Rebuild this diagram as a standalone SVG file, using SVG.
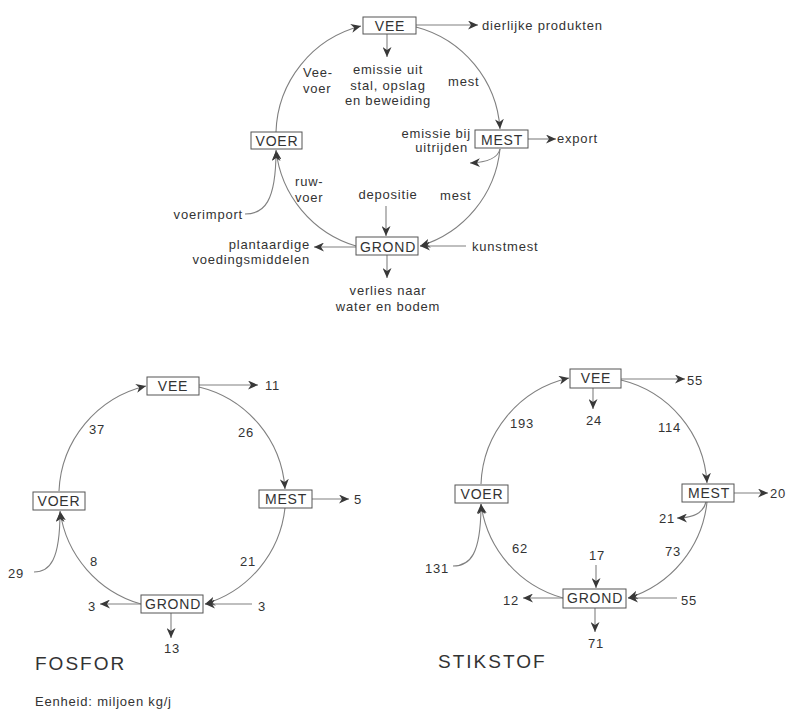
<svg xmlns="http://www.w3.org/2000/svg" width="788" height="709" viewBox="0 0 788 709">
<style>
  .bg { fill: #ffffff; }
  .box { fill: #ffffff; stroke: #555555; stroke-width: 1; }
  .bt { font-family: "Liberation Sans", Arial, sans-serif; font-size: 14px; letter-spacing: 0.8px; fill: #333333; text-anchor: middle; }
  .lb { font-family: "Liberation Sans", Arial, sans-serif; font-size: 13px; letter-spacing: 0.8px; fill: #333333; }
  .mid { text-anchor: middle; }
  .end { text-anchor: end; }
  .title { font-family: "Liberation Sans", Arial, sans-serif; font-size: 19px; letter-spacing: 2px; fill: #333333; }
  .con { fill: none; stroke: #808080; stroke-width: 1.1; marker-end: url(#ah); }
</style>
<defs>
  <marker id="ah" markerUnits="userSpaceOnUse" markerWidth="11" markerHeight="9" refX="10" refY="4.5" orient="auto">
    <path d="M0,0 L10,4.5 L0,9 L3,4.5 z" fill="#383838"/>
  </marker>
</defs>
<rect class="bg" x="0" y="0" width="788" height="709"/>

<g id="connectors">
  <!-- top overview diagram -->
  <path class="con" d="M276 132 A113 113 0 0 1 361 26"/>
  <path class="con" d="M416 27 A113 113 0 0 1 500 129"/>
  <path class="con" d="M500 149 A113 113 0 0 1 420 246"/>
  <path class="con" d="M356 246 A113 113 0 0 1 276 150"/>
  <path class="con" d="M245 214 C264 214 276 202 276 151"/>
  <path class="con" d="M416 25 L478 25"/>
  <path class="con" d="M387 34 L387 57"/>
  <path class="con" d="M528 139 L556 139"/>
  <path class="con" d="M500 149 Q497 162 470 163"/>
  <path class="con" d="M386 206 L386 236"/>
  <path class="con" d="M466 246 L420 246"/>
  <path class="con" d="M356 247 L314 247"/>
  <path class="con" d="M387 255 L387 278"/>

  <!-- FOSFOR -->
  <path class="con" d="M59 491 A113 113 0 0 1 146 386"/>
  <path class="con" d="M199 387 A113 113 0 0 1 285 489"/>
  <path class="con" d="M285 508 A113 113 0 0 1 205 604"/>
  <path class="con" d="M141 604 A113 113 0 0 1 60 511"/>
  <path class="con" d="M34 572 C50 572 60 560 60 512"/>
  <path class="con" d="M199 385 L258 385"/>
  <path class="con" d="M312 499 L349 499"/>
  <path class="con" d="M141 604 L100 604"/>
  <path class="con" d="M252 604 L205 604"/>
  <path class="con" d="M171 613 L171 638"/>

  <!-- STIKSTOF -->
  <path class="con" d="M481 484 A113 113 0 0 1 569 378"/>
  <path class="con" d="M621 380 A113 113 0 0 1 707 483"/>
  <path class="con" d="M707 502 A113 113 0 0 1 628 598"/>
  <path class="con" d="M563 598 A113 113 0 0 1 481 504"/>
  <path class="con" d="M453 566 C470 566 481 555 481 504"/>
  <path class="con" d="M621 379 L685 379"/>
  <path class="con" d="M593 388 L593 409"/>
  <path class="con" d="M734 493 L768 493"/>
  <path class="con" d="M706 502 Q702 518 677 518"/>
  <path class="con" d="M596 565 L596 588"/>
  <path class="con" d="M563 598 L523 598"/>
  <path class="con" d="M677 598 L628 598"/>
  <path class="con" d="M595 608 L595 632"/>
</g>

<!-- top overview nodes -->
<g id="top-vee"><rect class="box" x="363" y="17" width="53" height="17"/><text class="bt" x="390" y="31">VEE</text></g>
<g id="top-mest"><rect class="box" x="475" y="130" width="53" height="18"/><text class="bt" x="502" y="145">MEST</text></g>
<g id="top-voer"><rect class="box" x="251" y="132" width="51" height="17"/><text class="bt" x="277" y="146">VOER</text></g>
<g id="top-grond"><rect class="box" x="356" y="237" width="62" height="18"/><text class="bt" x="388" y="252">GROND</text></g>
<g id="top-dierlijke"><text class="lb" x="482" y="30">dierlijke produkten</text></g>
<g id="top-emissie-stal">
  <text class="lb mid" x="388" y="74">emissie uit</text>
  <text class="lb mid" x="388" y="90">stal, opslag</text>
  <text class="lb mid" x="388" y="105">en beweiding</text>
</g>
<g id="top-emissie-uitrijden">
  <text class="lb end" x="471" y="138">emissie bij</text>
  <text class="lb end" x="468" y="152">uitrijden</text>
</g>
<g id="top-export"><text class="lb" x="557" y="143">export</text></g>
<g id="top-depositie"><text class="lb mid" x="388" y="199">depositie</text></g>
<g id="top-kunstmest"><text class="lb" x="472" y="251">kunstmest</text></g>
<g id="top-voerimport"><text class="lb end" x="243" y="219">voerimport</text></g>
<g id="top-plantaardig">
  <text class="lb end" x="310" y="249">plantaardige</text>
  <text class="lb end" x="310" y="264">voedingsmiddelen</text>
</g>
<g id="top-verlies">
  <text class="lb mid" x="388" y="295">verlies naar</text>
  <text class="lb mid" x="388" y="311">water en bodem</text>
</g>
<g id="top-edge-labels">
  <text class="lb" x="303" y="77">Vee-</text>
  <text class="lb" x="303" y="93">voer</text>
  <text class="lb" x="448" y="86">mest</text>
  <text class="lb" x="295" y="186">ruw-</text>
  <text class="lb" x="295" y="202">voer</text>
  <text class="lb" x="440" y="200">mest</text>
</g>

<!-- FOSFOR nodes -->
<g id="p-vee"><rect class="box" x="147" y="377" width="52" height="18"/><text class="bt" x="173" y="391">VEE</text></g>
<g id="p-mest"><rect class="box" x="259" y="490" width="53" height="18"/><text class="bt" x="286" y="504">MEST</text></g>
<g id="p-voer"><rect class="box" x="33" y="492" width="52" height="18"/><text class="bt" x="59" y="506">VOER</text></g>
<g id="p-grond"><rect class="box" x="141" y="595" width="62" height="18"/><text class="bt" x="173" y="609">GROND</text></g>
<g id="p-labels">
  <text class="lb" x="265" y="390">11</text>
  <text class="lb" x="354" y="504">5</text>
  <text class="lb" x="89" y="434">37</text>
  <text class="lb" x="238" y="437">26</text>
  <text class="lb" x="90" y="566">8</text>
  <text class="lb" x="240" y="566">21</text>
  <text class="lb" x="8" y="578">29</text>
  <text class="lb" x="88" y="611">3</text>
  <text class="lb" x="258" y="611">3</text>
  <text class="lb mid" x="172" y="653">13</text>
</g>
<g id="p-title"><text class="title" x="35" y="670">FOSFOR</text></g>
<g id="unit"><text class="lb" x="35" y="706">Eenheid: miljoen kg/j</text></g>

<!-- STIKSTOF nodes -->
<g id="n-vee"><rect class="box" x="570" y="369" width="51" height="19"/><text class="bt" x="596" y="383">VEE</text></g>
<g id="n-mest"><rect class="box" x="682" y="484" width="52" height="18"/><text class="bt" x="709" y="498">MEST</text></g>
<g id="n-voer"><rect class="box" x="455" y="485" width="53" height="18"/><text class="bt" x="482" y="499">VOER</text></g>
<g id="n-grond"><rect class="box" x="563" y="589" width="63" height="19"/><text class="bt" x="595" y="603">GROND</text></g>
<g id="n-labels">
  <text class="lb" x="687" y="385">55</text>
  <text class="lb mid" x="594" y="425">24</text>
  <text class="lb" x="770" y="498" letter-spacing="0">20</text>
  <text class="lb end" x="675" y="523">21</text>
  <text class="lb" x="510" y="428">193</text>
  <text class="lb" x="658" y="432">114</text>
  <text class="lb" x="512" y="553">62</text>
  <text class="lb" x="665" y="556">73</text>
  <text class="lb" x="425" y="573">131</text>
  <text class="lb mid" x="597" y="560">17</text>
  <text class="lb" x="503" y="605">12</text>
  <text class="lb" x="681" y="605">55</text>
  <text class="lb mid" x="596" y="648">71</text>
</g>
<g id="n-title"><text class="title" x="438" y="668">STIKSTOF</text></g>
</svg>
